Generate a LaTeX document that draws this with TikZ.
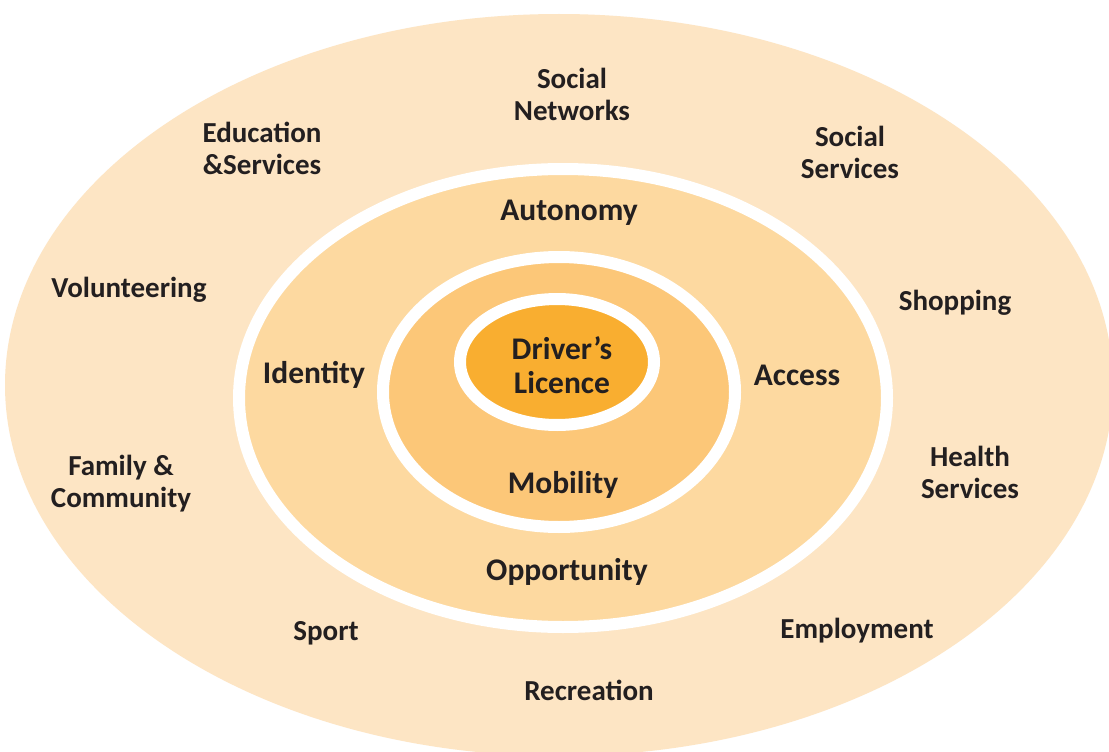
\documentclass[tikz,border=0pt]{standalone}
\usepackage{fontspec}
\setmainfont{Carlito}
\definecolor{ringA}{RGB}{253,229,196}
\definecolor{ringB}{RGB}{253,217,160}
\definecolor{ringC}{RGB}{252,199,120}
\definecolor{ringD}{RGB}{249,174,48}
\definecolor{txt}{RGB}{35,31,32}
\tikzset{
  lbl/.style={font=\fontsize{29}{32}\selectfont\bfseries, text=txt, align=center, inner sep=0pt},
  inlbl/.style={font=\fontsize{31.5}{34}\selectfont\bfseries, text=txt, align=center, inner sep=0pt},
  band/.style={draw=white, line width=12pt}
}
\begin{document}
\begin{tikzpicture}[x=1pt,y=-1pt]
\useasboundingbox (0,0) rectangle (1109,752);
\clip (0,0) rectangle (1109,752);
\fill[white] (0,0) rectangle (1109,752);
\fill[ringA] (559,385) ellipse [x radius=554, y radius=371];
\filldraw[ringB, band] (563,398) ellipse [x radius=324, y radius=229];
\filldraw[ringC, band] (559,392) ellipse [x radius=176, y radius=135];
\filldraw[ringD, band] (557,362) ellipse [x radius=97, y radius=63];

\node[lbl] (socnet) at (572,94) {Social\\Networks};
\node[lbl] (edu) at (262,148) {Education\\\&Services};
\node[lbl] (socserv) at (850,152) {Social\\Services};
\node[lbl] (vol) at (129,290) {Volunteering};
\node[lbl] (shop) at (955,303) {Shopping};
\node[inlbl] (auto) at (569,213) {Autonomy};
\node[inlbl] (ident) at (314,375) {Identity};
\node[inlbl] (access) at (797,375) {Access};
\node[inlbl] (licence) at (562,365) {Driver’s\\Licence};
\node[inlbl] (mob) at (563,485) {Mobility};
\node[inlbl] (opp) at (567,572) {Opportunity};
\node[lbl] (fam) at (121,484) {Family \&\\Community};
\node[lbl] (health) at (970,472) {Health\\Services};
\node[lbl] (sport) at (326,633) {Sport};
\node[lbl] (employ) at (857,631) {Employment};
\node[lbl] (recr) at (589,690) {Recreation};
\end{tikzpicture}
\end{document}
